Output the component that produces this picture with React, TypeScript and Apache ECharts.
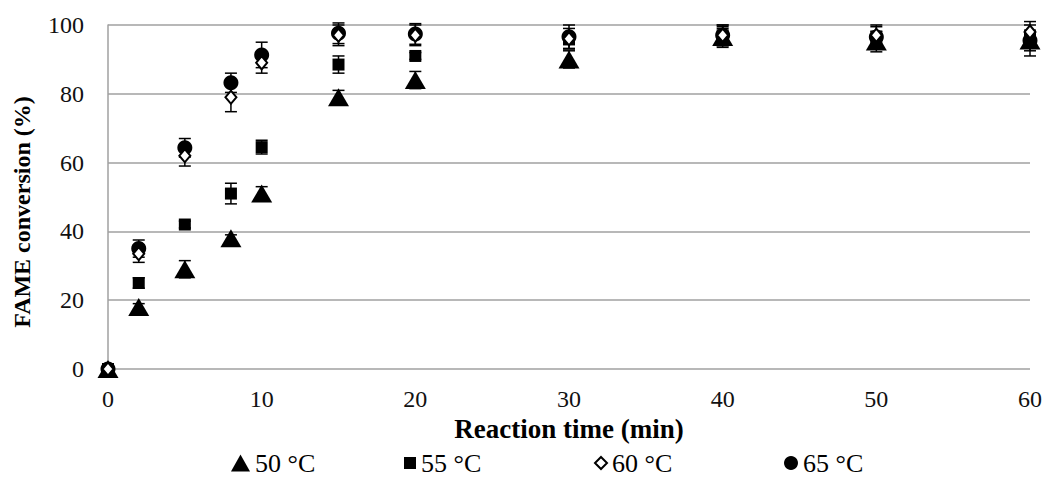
import React, { useEffect, useRef } from "react";
import * as echarts from "echarts";

const times = [0, 2, 5, 8, 10, 15, 20, 30, 40, 50, 60];
const c50 = [0, 18, 29, 38, 51, 79, 84, 90, 96.5, 95.2, 95.5];
const c50err = [0, 1, 2.5, 1, 2, 2, 2.5, 2.5, 3, 3, 3];
const c55 = [0, 25, 42, 51, 64.5, 88.5, 91, 95.8, 97, 96, 96];
const c55err = [0, 1.5, 1, 3, 2, 2.5, 1, 1, 2, 2, 2];
const c60 = [0, 33.5, 62, 79, 89, 97, 97, 96, 97, 97, 98];
const c60err = [0, 2.5, 3, 4.2, 3, 3, 3, 3, 3, 3, 3];
const c65 = [0, 35, 64.3, 83.2, 91.3, 97.6, 97.4, 96.6, 97, 96.5, 95.5];
const c65err = [0, 2.5, 2.7, 2.8, 3.7, 3, 3, 3.4, 3, 3, 4.5];

const legendNames = ["50 °C", "55 °C", "60 °C", "65 °C"];
const yTicks = [0, 20, 40, 60, 80, 100];
const xTicks = [0, 10, 20, 30, 40, 50, 60];
const xTitle = "Reaction time (min)";
const yTitle = "FAME conversion (%)";

const FONT = "'Liberation Serif', 'Times New Roman', serif";

function pts(vals: number[], errs: number[]) {
  return times.map((t, i) => [t, vals[i], errs[i]]);
}

function errSeries(name: string, vals: number[], errs: number[]) {
  return {
    type: "custom",
    name: name + " err",
    data: pts(vals, errs),
    z: 1,
    silent: true,
    renderItem: (params: any, api: any) => {
      const x = api.value(0);
      const y = api.value(1);
      const e = api.value(2);
      if (!e) return null;
      const top = api.coord([x, y + e]);
      const bot = api.coord([x, y - e]);
      const w = 6;
      const style = { stroke: "#000", lineWidth: 1.5 };
      return {
        type: "group",
        children: [
          { type: "line", shape: { x1: top[0], y1: top[1], x2: bot[0], y2: bot[1] }, style },
          { type: "line", shape: { x1: top[0] - w, y1: top[1], x2: top[0] + w, y2: top[1] }, style },
          { type: "line", shape: { x1: bot[0] - w, y1: bot[1], x2: bot[0] + w, y2: bot[1] }, style },
        ],
      };
    },
  };
}

export default function App() {
  const ref = useRef<HTMLDivElement>(null);
  useEffect(() => {
    if (!ref.current) return;
    const chart = echarts.init(ref.current, null, { renderer: "svg" });
    const legendBase = {
      top: 450,
      padding: 0,
      textStyle: { fontFamily: FONT, fontSize: 26, lineHeight: 26, color: "#000", padding: [0, 0, 0, 0] },
      itemGap: 0,
      selectedMode: false,
    };
    chart.setOption({
      animation: false,
      backgroundColor: "#fff",
      grid: { left: 108, right: 16, top: 25, bottom: 109, containLabel: false },
      graphic: [
        {
          type: "text",
          x: 22,
          y: 212,
          rotation: Math.PI / 2,
          style: {
            text: yTitle,
            fontFamily: FONT,
            fontSize: 24,
            fontWeight: "bold",
            fill: "#000",
            align: "center",
            verticalAlign: "middle",
          },
        },
      ],
      xAxis: {
        type: "value",
        min: 0,
        max: 60,
        interval: 10,
        name: xTitle,
        nameLocation: "middle",
        nameGap: 44,
        nameTextStyle: { fontFamily: FONT, fontSize: 27, fontWeight: "bold", color: "#000" },
        axisLine: { show: false },
        axisTick: { show: false },
        splitLine: { show: false },
        axisLabel: {
          fontFamily: FONT,
          fontSize: 24,
          color: "#111",
          margin: 18,
          formatter: (v: number) => (xTicks.includes(v) ? String(v) : ""),
        },
      },
      yAxis: {
        type: "value",
        min: 0,
        max: 100,
        interval: 20,
        axisLine: { show: true, lineStyle: { color: "#a0a0a0", width: 1.5 } },
        axisTick: { show: false },
        splitLine: { show: true, lineStyle: { color: "#a0a0a0", width: 1.5 } },
        axisLabel: {
          fontFamily: FONT,
          fontSize: 24,
          color: "#111",
          margin: 24,
          formatter: (v: number) => (yTicks.includes(v) ? String(v) : ""),
        },
      },
      legend: [
        { ...legendBase, left: 231, itemWidth: 19, itemHeight: 17, data: [{ name: legendNames[0], icon: "triangle" }] },
        { ...legendBase, left: 404, itemWidth: 12, itemHeight: 12, data: [{ name: legendNames[1], icon: "rect" }] },
        { ...legendBase, left: 594, itemWidth: 12, itemHeight: 12, data: [{ name: legendNames[2], icon: "diamond" }] },
        { ...legendBase, left: 784, itemWidth: 14, itemHeight: 14, data: [{ name: legendNames[3], icon: "circle" }] },
      ],
      series: [
        errSeries(legendNames[0], c50, c50err),
        errSeries(legendNames[1], c55, c55err),
        errSeries(legendNames[3], c65, c65err),
        errSeries(legendNames[2], c60, c60err),
        {
          type: "scatter",
          name: legendNames[0],
          data: times.map((t, i) => [t, c50[i]]),
          symbol: "triangle",
          symbolSize: [21, 18],
          itemStyle: { color: "#000", opacity: 1 },
          z: 2,
        },
        {
          type: "scatter",
          name: legendNames[1],
          data: times.map((t, i) => [t, c55[i]]),
          symbol: "rect",
          symbolSize: 12,
          itemStyle: { color: "#000", opacity: 1 },
          z: 3,
        },
        {
          type: "scatter",
          name: legendNames[3],
          data: times.map((t, i) => [t, c65[i]]),
          symbol: "circle",
          symbolSize: 15,
          itemStyle: { color: "#000", opacity: 1 },
          z: 4,
        },
        {
          type: "scatter",
          name: legendNames[2],
          data: times.map((t, i) => [t, c60[i]]),
          symbol: "diamond",
          symbolSize: [11, 13],
          itemStyle: { color: "#fff", borderColor: "#000", borderWidth: 2, opacity: 1 },
          z: 5,
        },
      ],
    });
    return () => chart.dispose();
  }, []);
  return <div ref={ref} style={{ width: 1046, height: 478, position: "absolute", left: 0, top: 0 }} />;
}
